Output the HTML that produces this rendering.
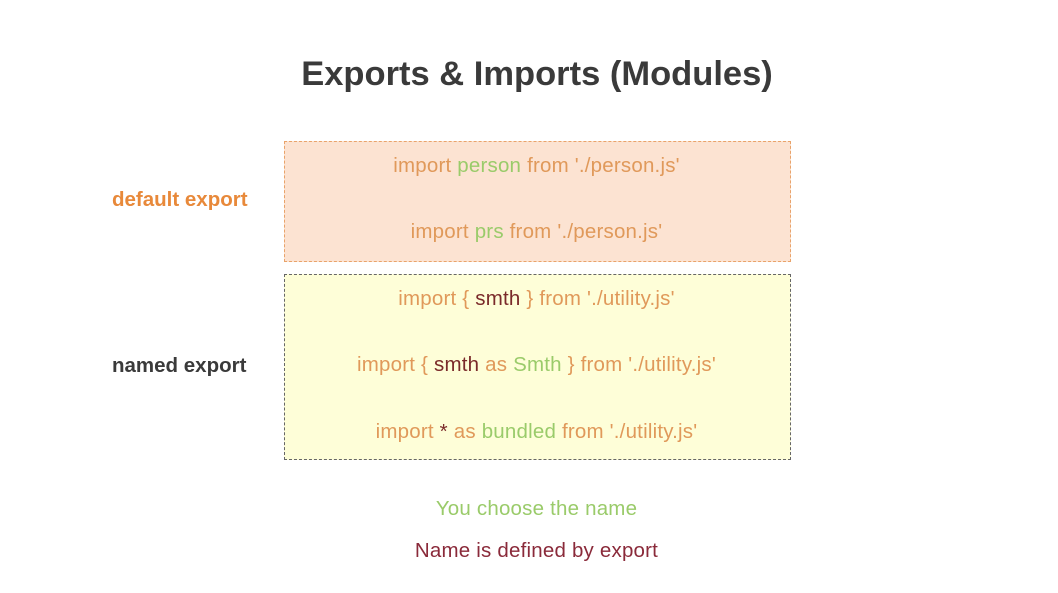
<!DOCTYPE html>
<html><head><style>
body{margin:0;width:1058px;height:593px;background:#fff;font-family:"Liberation Sans",sans-serif;position:relative;overflow:hidden}
.a{position:absolute;white-space:nowrap}
.t{left:0;width:1074px;text-align:center;top:55px;font-size:34.5px;font-weight:bold;color:#3a3a3a}
.box{position:absolute;left:284px;width:505px;border:1.5px dashed}
.l{font-size:20.5px;text-align:center;width:505px;left:284px;color:#e0995a;letter-spacing:0.2px}
.g{color:#9acb6a}.r{color:#7a2a2a}
</style></head><body>
<div class="a t">Exports &amp; Imports (Modules)</div>
<div class="box" style="top:141px;height:119px;background:#fce3d2;border-color:#e9a36a"></div>
<div class="box" style="top:274px;height:184px;background:#fefed8;border-color:#666"></div>
<div class="a" style="left:112px;top:188px;font-size:20.5px;font-weight:bold;color:#e8893a">default export</div>
<div class="a" style="left:112px;top:354px;font-size:20.5px;font-weight:bold;color:#3a3a3a">named export</div>
<div class="a l" style="top:154px">import <span class="g">person</span> from './person.js'</div>
<div class="a l" style="top:220px">import <span class="g">prs</span> from './person.js'</div>
<div class="a l" style="top:287px">import { <span class="r">smth</span> } from './utility.js'</div>
<div class="a l" style="top:353px">import { <span class="r">smth</span> as <span class="g">Smth</span> } from './utility.js'</div>
<div class="a l" style="top:420px">import <span class="r">*</span> as <span class="g">bundled</span> from './utility.js'</div>
<div class="a l" style="top:497px;color:#9acb6a">You choose the name</div>
<div class="a l" style="top:539px;color:#8a2a3a">Name is defined by export</div>
</body></html>
